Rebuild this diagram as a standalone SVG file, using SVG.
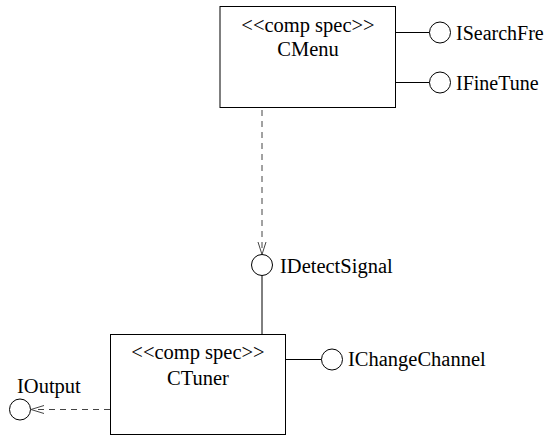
<svg xmlns="http://www.w3.org/2000/svg" width="546" height="442" viewBox="0 0 546 442">
<defs>
<style>
text{font-family:"Liberation Serif","Times New Roman",serif;font-size:20.5px;fill:#000}
.iname{font-size:20px}
.box{fill:#fff;stroke:#000;stroke-width:1}
.iface{fill:#fff;stroke:#000;stroke-width:1}
.solid{stroke:#000;stroke-width:1;fill:none}
.dash{stroke:#444;stroke-width:1;fill:none;stroke-dasharray:6,5}
.arr{stroke:#444;stroke-width:1;fill:none}
</style>
</defs>
<rect width="546" height="442" fill="#fff"/>
<g id="connectors">
<line class="solid" x1="396" y1="32.5" x2="429.5" y2="32.5"/>
<line class="solid" x1="396" y1="82.5" x2="429.5" y2="82.5"/>
<line class="dash" x1="262" y1="110" x2="262" y2="253"/>
<polyline class="arr" points="258,242 262,254.5 266,242"/>
<line class="solid" x1="262" y1="275.5" x2="262" y2="335"/>
<line class="solid" x1="286" y1="359.5" x2="321.5" y2="359.5"/>
<line class="dash" x1="110" y1="409.5" x2="33" y2="409.5"/>
<polyline class="arr" points="44,405.5 31,409.5 44,413.5"/>
</g>
<g id="CMenu">
<rect class="box" x="220" y="6.5" width="175.5" height="101"/>
<text x="308" y="31.5" text-anchor="middle">&lt;&lt;comp spec&gt;&gt;</text>
<text x="308" y="56" text-anchor="middle">CMenu</text>
</g>
<g id="ISearchFre">
<circle class="iface" cx="440" cy="32.5" r="10.5"/>
<text class="iname" x="456" y="39.5">ISearchFre</text>
</g>
<g id="IFineTune">
<circle class="iface" cx="440" cy="82.5" r="10.5"/>
<text class="iname" x="456" y="89.5">IFineTune</text>
</g>
<g id="IDetectSignal">
<circle class="iface" cx="262" cy="265" r="10.5"/>
<text x="280" y="273">IDetectSignal</text>
</g>
<g id="CTuner">
<rect class="box" x="110.5" y="334.5" width="175" height="100"/>
<text x="198" y="359" text-anchor="middle">&lt;&lt;comp spec&gt;&gt;</text>
<text x="198" y="384.5" text-anchor="middle">CTuner</text>
</g>
<g id="IChangeChannel">
<circle class="iface" cx="332" cy="359.5" r="10.5"/>
<text x="348" y="366">IChangeChannel</text>
</g>
<g id="IOutput">
<circle class="iface" cx="20" cy="409.5" r="10.5"/>
<text x="17" y="393">IOutput</text>
</g>
</svg>
